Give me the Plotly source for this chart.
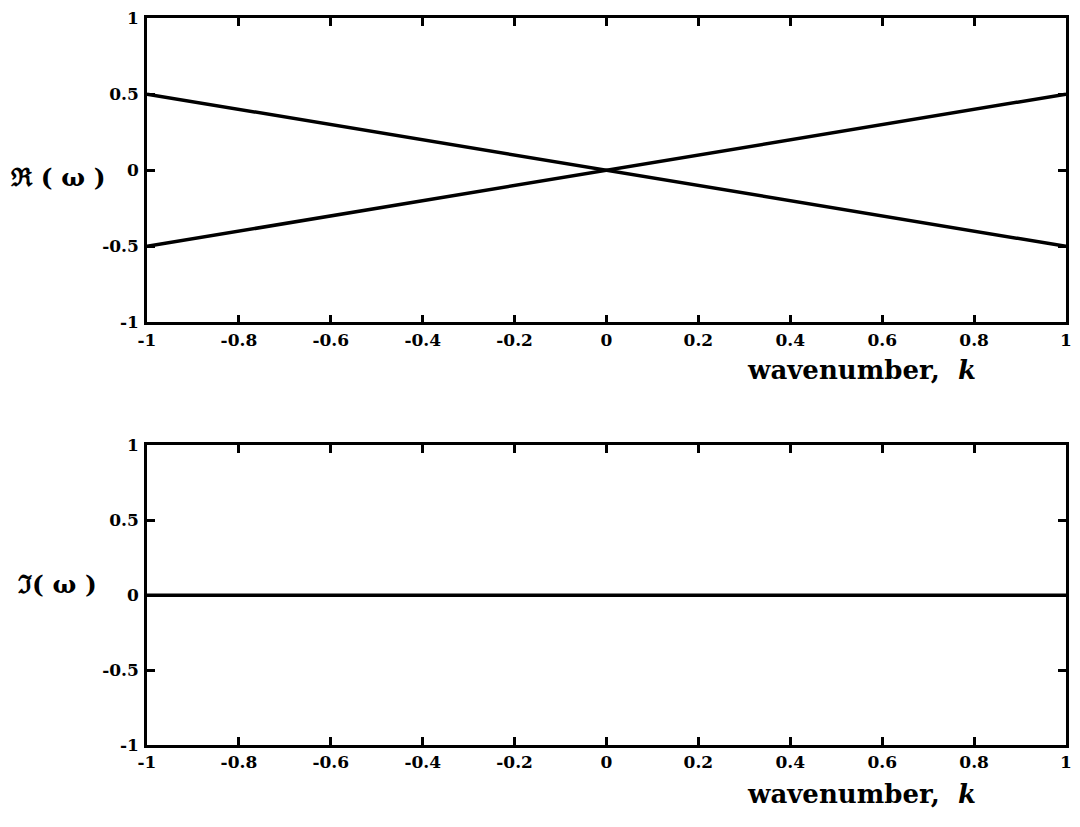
import plotly.graph_objects as go
from plotly.subplots import make_subplots

k = [-1, 1]
re_up = [-0.5, 0.5]
re_down = [0.5, -0.5]
im_vals = [0, 0]

xticks = [-1, -0.8, -0.6, -0.4, -0.2, 0, 0.2, 0.4, 0.6, 0.8, 1]
xticklabels = ["-1", "-0.8", "-0.6", "-0.4", "-0.2", "0", "0.2", "0.4", "0.6", "0.8", "1"]
yticks = [-1, -0.5, 0, 0.5, 1]
yticklabels = ["-1", "-0.5", "0", "0.5", "1"]

fig = make_subplots(rows=2, cols=1)
lw = 3.5
fig.add_trace(go.Scatter(x=k, y=re_down, mode="lines", line=dict(color="black", width=lw)), row=1, col=1)
fig.add_trace(go.Scatter(x=k, y=re_up, mode="lines", line=dict(color="black", width=lw)), row=1, col=1)
fig.add_trace(go.Scatter(x=k, y=im_vals, mode="lines", line=dict(color="black", width=lw)), row=2, col=1)

H = 827
mt, mb = 12, 82
ih = H - mt - mb
top_dom = [(H - 319 - mb) / ih, 1.0]
bot_dom = [0.0, (H - 443 - mb) / ih]

tickfont = dict(family="DejaVu Serif", size=17, color="black")
axis_common = dict(
    showgrid=False, zeroline=False, showline=True, linecolor="black", linewidth=2.5,
    mirror="ticks", ticks="inside", ticklen=8, tickwidth=2.5, tickcolor="black",
    tickfont=tickfont,
)
for r, dom in [(1, top_dom), (2, bot_dom)]:
    fig.update_xaxes(range=[-1, 1], tickvals=xticks, ticktext=[f"<b>{t}</b>" for t in xticklabels],
                     row=r, col=1, **axis_common)
    fig.update_yaxes(range=[-1, 1], tickvals=yticks, ticktext=[f"<b>{t}</b>" for t in yticklabels],
                     domain=dom, row=r, col=1, ticklabelstandoff=2, **axis_common)

titlefont = dict(family="DejaVu Serif", size=26, color="black")
for yref, yshift in [("y domain", -48), ("y2 domain", -49)]:
    fig.add_annotation(text="<b>wavenumber,  <i>k</i></b>", xref="paper", yref=yref,
                       x=(983 - 147) / 925, y=0, xanchor="right", yanchor="middle",
                       yshift=yshift, showarrow=False, font=titlefont)

labfont = dict(family="DejaVu Serif", size=25, color="black")
fig.add_annotation(text="<b>ℜ ( ω )</b>", xref="paper", yref="y domain",
                   x=-(147 - 57) / 925, y=0.5, xanchor="center", yanchor="middle",
                   yshift=-7, showarrow=False, font=labfont)
fig.add_annotation(text="<b>ℑ( ω )</b>", xref="paper", yref="y2 domain",
                   x=-(147 - 57) / 925, y=0.5, xanchor="center", yanchor="middle",
                   yshift=11, showarrow=False, font=labfont)

fig.update_layout(
    width=1080, height=827, showlegend=False,
    plot_bgcolor="white", paper_bgcolor="white",
    margin=dict(l=147, r=8, t=mt, b=mb),
)
fig.write_html("out.html")
